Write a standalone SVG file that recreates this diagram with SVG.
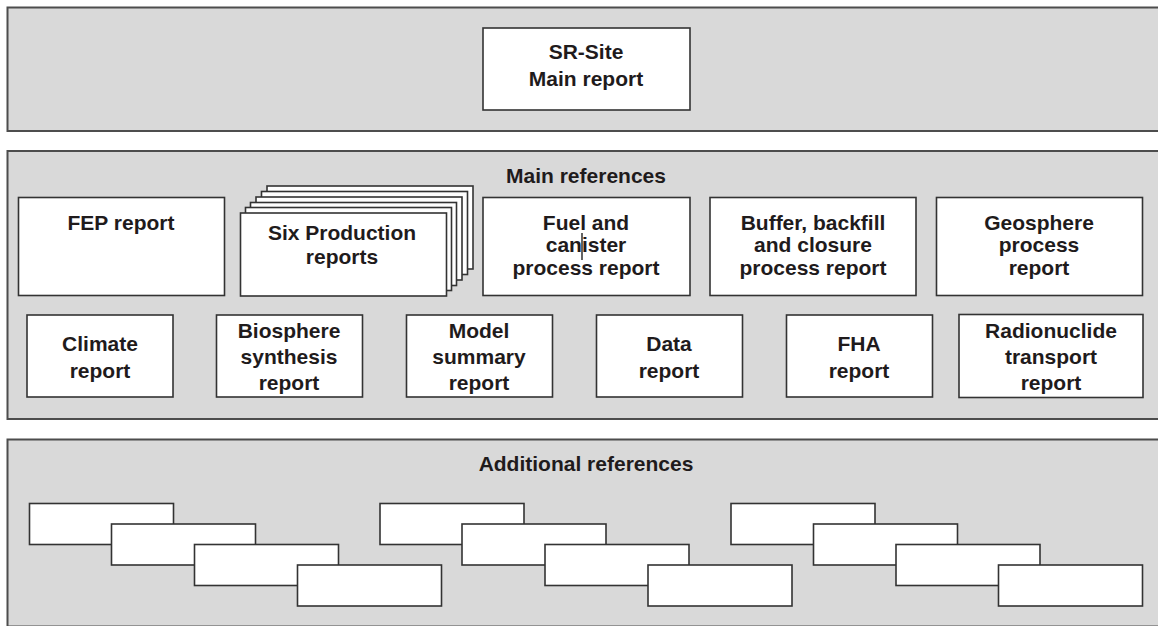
<svg xmlns="http://www.w3.org/2000/svg" width="1158" height="626" viewBox="0 0 1158 626">
<style>
.panel{fill:#d9d9d9;stroke:#4d4d4d;stroke-width:2}
.box{fill:#ffffff;stroke:#333333;stroke-width:1.6}
.t{font-family:"Liberation Sans",Arial,sans-serif;font-weight:bold;font-size:21px;fill:#1f1b1c;text-anchor:middle}
</style>
<rect width="1158" height="626" fill="#ffffff"/>
<g id="panel-top">
<rect class="panel" x="7.5" y="7.5" width="1160" height="123.5"/>
</g>
<g id="sr-site">
<rect class="box" x="483" y="28" width="207" height="82"/>
<text class="t" x="586" y="58.5">SR-Site</text>
<text class="t" x="586" y="85.5">Main report</text>
</g>
<g id="panel-main">
<rect class="panel" x="7.5" y="151" width="1160" height="268"/>
<text class="t" x="586" y="182.5">Main references</text>
</g>
<g id="fep">
<rect class="box" x="18.5" y="197.5" width="206" height="98"/>
<text class="t" x="121" y="229.5">FEP report</text>
</g>
<g id="six-production">
<rect class="box" x="267" y="186" width="206" height="83"/>
<rect class="box" x="261.5" y="191.5" width="206" height="83"/>
<rect class="box" x="256" y="197" width="206" height="83"/>
<rect class="box" x="250.5" y="202.5" width="206" height="83"/>
<rect class="box" x="245.5" y="207.5" width="206" height="83"/>
<rect class="box" x="240.5" y="213" width="206" height="83"/>
<text class="t" x="342" y="239.5">Six Production</text>
<text class="t" x="342" y="263.5">reports</text>
</g>
<g id="fuel-canister">
<rect class="box" x="483" y="197.5" width="207" height="98"/>
<text class="t" x="586" y="229.5">Fuel and</text>
<text class="t" x="586" y="252">canister</text>
<text class="t" x="586" y="274.5">process report</text>
<line x1="582" y1="233" x2="582" y2="260" stroke="#222222" stroke-width="1.4"/>
</g>
<g id="buffer">
<rect class="box" x="710" y="197.5" width="206" height="98"/>
<text class="t" x="813" y="229.5">Buffer, backfill</text>
<text class="t" x="813" y="252">and closure</text>
<text class="t" x="813" y="274.5">process report</text>
</g>
<g id="geosphere">
<rect class="box" x="936.5" y="197.5" width="206" height="98"/>
<text class="t" x="1039" y="229.5">Geosphere</text>
<text class="t" x="1039" y="252">process</text>
<text class="t" x="1039" y="274.5">report</text>
</g>
<g id="climate">
<rect class="box" x="27" y="315" width="146" height="82"/>
<text class="t" x="100" y="350.5">Climate</text>
<text class="t" x="100" y="377.5">report</text>
</g>
<g id="biosphere">
<rect class="box" x="216.5" y="315" width="146" height="82"/>
<text class="t" x="289" y="337.5">Biosphere</text>
<text class="t" x="289" y="363.5">synthesis</text>
<text class="t" x="289" y="389.5">report</text>
</g>
<g id="model-summary">
<rect class="box" x="406.5" y="315" width="146" height="82"/>
<text class="t" x="479" y="337.5">Model</text>
<text class="t" x="479" y="363.5">summary</text>
<text class="t" x="479" y="389.5">report</text>
</g>
<g id="data">
<rect class="box" x="596.5" y="315" width="146" height="82"/>
<text class="t" x="669" y="350.5">Data</text>
<text class="t" x="669" y="377.5">report</text>
</g>
<g id="fha">
<rect class="box" x="786.5" y="315" width="146" height="82"/>
<text class="t" x="859" y="350.5">FHA</text>
<text class="t" x="859" y="377.5">report</text>
</g>
<g id="radionuclide">
<rect class="box" x="959" y="314.5" width="184" height="83"/>
<text class="t" x="1051" y="337.5">Radionuclide</text>
<text class="t" x="1051" y="363.5">transport</text>
<text class="t" x="1051" y="389.5">report</text>
</g>
<g id="panel-additional">
<rect class="panel" x="7.5" y="439.5" width="1160" height="187"/>
<text class="t" x="586" y="470.5">Additional references</text>
</g>
<g id="additional-group-1">
<rect class="box" x="29.5" y="503.5" width="144" height="41"/>
<rect class="box" x="111.5" y="524" width="144" height="41"/>
<rect class="box" x="194.5" y="544.5" width="144" height="41"/>
<rect class="box" x="297.5" y="565" width="144" height="41"/>
</g>
<g id="additional-group-2">
<rect class="box" x="380" y="503.5" width="144" height="41"/>
<rect class="box" x="462" y="524" width="144" height="41"/>
<rect class="box" x="545" y="544.5" width="144" height="41"/>
<rect class="box" x="648" y="565" width="144" height="41"/>
</g>
<g id="additional-group-3">
<rect class="box" x="731" y="503.5" width="144" height="41"/>
<rect class="box" x="813.5" y="524" width="144" height="41"/>
<rect class="box" x="896" y="544.5" width="144" height="41"/>
<rect class="box" x="998.5" y="565" width="144" height="41"/>
</g>
</svg>
